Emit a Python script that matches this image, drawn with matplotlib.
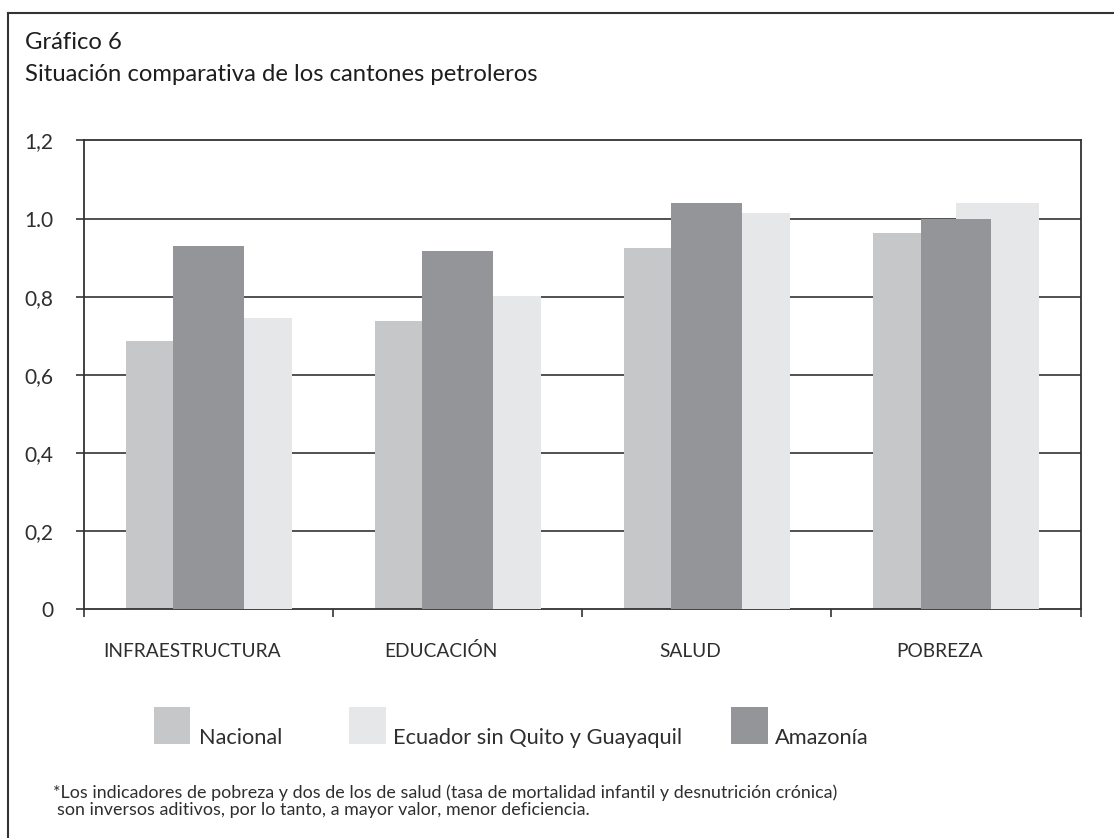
import matplotlib
matplotlib.use("Agg")
import matplotlib.pyplot as plt
from matplotlib.patches import Rectangle
from matplotlib.lines import Line2D
import numpy as np

plt.rcParams['font.family'] = ['Lato', 'DejaVu Sans']

# ---- data ----
categories = ["INFRAESTRUCTURA", "EDUCACIÓN", "SALUD", "POBREZA"]
nacional = [0.687, 0.737, 0.924, 0.962]
ecuador_sin_qg = [0.745, 0.802, 1.014, 1.040]
amazonia = [0.929, 0.916, 1.039, 1.000]
series_names = ["Nacional", "Ecuador sin Quito y Guayaquil", "Amazonía"]
ytick_values = [0, 0.2, 0.4, 0.6, 0.8, 1.0, 1.2]
ytick_labels = ["0", "0,2", "0,4", "0,6", "0,8", "1.0", "1,2"]

title1 = "Gráfico 6"
title2 = "Situación comparativa de los cantones petroleros"
note1 = "*Los indicadores de pobreza y dos de los de salud (tasa de mortalidad infantil y desnutrición crónica)"
note2 = "son inversos aditivos, por lo tanto, a mayor valor, menor deficiencia."

# ---- style ----
c_nac = "#c6c7c9"
c_ecu = "#e6e7e8"
c_ama = "#949599"
line_c = "#333333"
txt_c = "#2e2e2e"

W, H = 1114, 838
fig = plt.figure(figsize=(W / 100, H / 100), dpi=100)

def fx(px):
    return px / W

def fy(py):
    return 1 - py / H

ax_l, ax_r, ax_t, ax_b = 84, 1080.5, 140.5, 609
ax = fig.add_axes([fx(ax_l), fy(ax_b), fx(ax_r - ax_l), (ax_b - ax_t) / H])

n = len(categories)
centers = np.arange(n) + 0.5
bw = 1 / 3
bw_ama = 0.284

ax.bar(centers - bw, nacional, width=bw, align='edge', color=c_nac, zorder=2, linewidth=0)
ax.bar(centers, ecuador_sin_qg, width=bw, align='edge', color=c_ecu, zorder=3, linewidth=0)
ax.bar(centers, amazonia, width=bw_ama, align='center', color=c_ama, zorder=4, linewidth=0)

ax.set_xlim(0, n)
ax.set_ylim(0, 1.2)
for v in ytick_values[1:-1]:
    ax.axhline(v, color=line_c, lw=1.2, zorder=1)

for s in ax.spines.values():
    s.set_color(line_c)
    s.set_linewidth(1.3)

ax.set_yticks(ytick_values)
ax.set_yticklabels(ytick_labels, fontsize=15, color=txt_c)
ax.tick_params(axis='y', direction='out', length=6, width=1.2, color=line_c, pad=16)

ax.set_xticks(np.arange(n + 1))
ax.set_xticklabels([])
ax.tick_params(axis='x', direction='out', length=6, width=1.2, color=line_c)

for i, cat in enumerate(categories):
    ax.annotate(cat, xy=(centers[i], 0), xycoords=('data', 'axes fraction'),
                xytext=(-12, -30.5), textcoords='offset points',
                ha='center', va='center', fontsize=13.8, color=txt_c)

# ---- frame ----
fig.add_artist(Line2D([fx(8.3), 1], [fy(12.7), fy(12.7)], color=line_c, lw=1.5))
fig.add_artist(Line2D([fx(8.3), fx(8.3)], [fy(12.7), 0], color=line_c, lw=1.5))

# ---- titles ----
fig.text(fx(25), fy(49), title1, fontsize=17.2, va='baseline', ha='left', color="#1e1e1e")
fig.text(fx(25), fy(81), title2, fontsize=17.2, va='baseline', ha='left', color="#1e1e1e")

# ---- legend ----
legend_boxes = [(154, 190), (349, 386), (731, 768)]
legend_text_x = [199, 393, 775]
legend_colors = [c_nac, c_ecu, c_ama]
for (x0, x1), tx, col, name in zip(legend_boxes, legend_text_x, legend_colors, series_names):
    fig.add_artist(Rectangle((fx(x0), fy(744)), fx(x1 - x0), (744 - 707) / H,
                             facecolor=col, edgecolor='none', transform=fig.transFigure))
    fig.text(fx(tx), fy(743.5), name, fontsize=15.7, va='baseline', ha='left',
             color=txt_c)

# ---- footnote ----
fig.text(fx(53), fy(798), note1, fontsize=12.9, va='baseline', ha='left', color=txt_c)
fig.text(fx(57), fy(815), note2, fontsize=12.9, va='baseline', ha='left', color=txt_c)

fig.savefig("out.png", dpi=100)
